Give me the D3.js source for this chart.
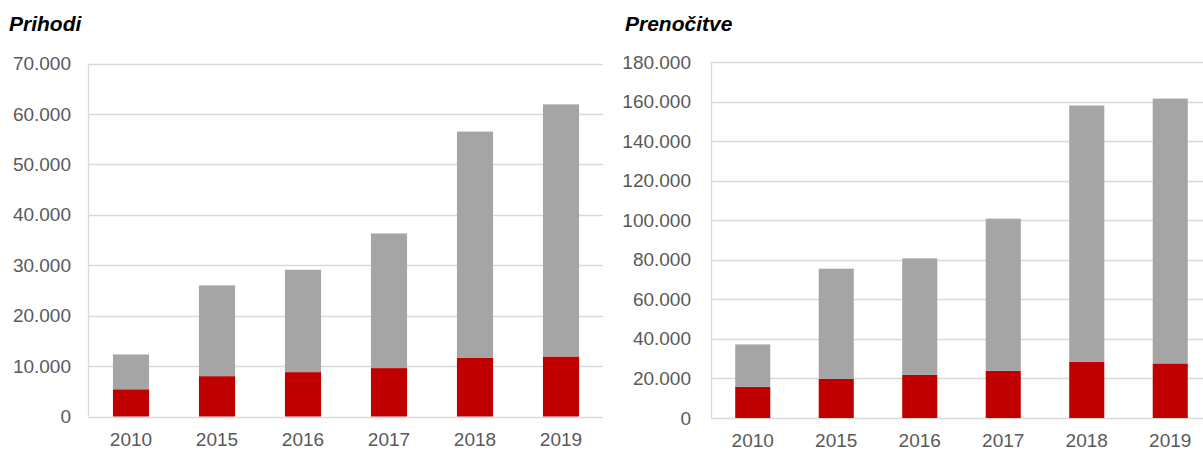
<!DOCTYPE html>
<html>
<head>
<meta charset="utf-8">
<script src="https://cdn.jsdelivr.net/npm/d3@7"></script>
<style>
  body { margin: 0; background: #fff; }
  svg { display: block; }
</style>
</head>
<body>
<div id="charts"></div>
<script>
// data
const years = ["2010", "2015", "2016", "2017", "2018", "2019"];

const prihodi_red = [5400, 8000, 8800, 9600, 11600, 11900];
const prihodi_grey = [6900, 18000, 20300, 26700, 44900, 50000];
const prihodi_ticks = [0, 10000, 20000, 30000, 40000, 50000, 60000, 70000];

const prenocitve_red = [15800, 19800, 21800, 23800, 28500, 27600];
const prenocitve_grey = [21400, 55700, 58900, 77000, 129500, 133900];
const prenocitve_ticks = [0, 20000, 40000, 60000, 80000, 100000, 120000, 140000, 160000, 180000];

const colors = { red: "#c00000", grey: "#a5a5a5" };
const font = "'Liberation Sans', Arial, sans-serif";

// 70000 -> "70.000"
const fmt = (v) => d3.format(",")(v).replace(/,/g, ".");

const svg = d3
  .select("#charts")
  .append("svg")
  .attr("width", 1203)
  .attr("height", 452);

const draw_chart = (opts) => {
  const { title, titleX, red, grey, ticks, left, right, gridRight, top, bottom, labelGap } = opts;

  const rows = years.map((year, i) => ({ year, red: red[i], grey: grey[i] }));
  const stacked = d3.stack().keys(["red", "grey"])(rows);

  const x = d3
    .scaleBand()
    .domain(years)
    .range([left, right])
    .paddingInner(0.58)
    .paddingOuter(0.29);

  const y = d3
    .scaleLinear()
    .domain([0, d3.max(ticks)])
    .range([bottom, top]);

  const g = svg.append("g");

  // title
  g.append("text")
    .attr("x", titleX)
    .attr("y", 31)
    .attr("font-family", font)
    .attr("font-size", 21)
    .attr("font-weight", "bold")
    .attr("font-style", "italic")
    .attr("fill", "#000")
    .text(title);

  // gridlines
  g.selectAll(".grid")
    .data(ticks)
    .join("line")
    .attr("class", "grid")
    .attr("x1", left)
    .attr("x2", gridRight)
    .attr("y1", (d) => Math.round(y(d)) + 0.5)
    .attr("y2", (d) => Math.round(y(d)) + 0.5)
    .attr("stroke", "#d9d9d9")
    .attr("stroke-width", 1.3);

  // left border of plot area
  g.append("line")
    .attr("x1", left + 0.5)
    .attr("x2", left + 0.5)
    .attr("y1", y(d3.max(ticks)))
    .attr("y2", y(0))
    .attr("stroke", "#d9d9d9")
    .attr("stroke-width", 1.3);

  // bars
  g.selectAll(".layer")
    .data(stacked)
    .join("g")
    .attr("class", "layer")
    .attr("fill", (s) => colors[s.key])
    .selectAll("rect")
    .data((s) => s)
    .join("rect")
    .attr("x", (d) => x(d.data.year))
    .attr("width", x.bandwidth())
    .attr("y", (d) => y(d[1]))
    .attr("height", (d) => y(d[0]) - y(d[1]));

  // y axis
  const yAxis = g
    .append("g")
    .attr("transform", `translate(${left - labelGap}, 0)`)
    .call(d3.axisLeft(y).tickValues(ticks).tickFormat(fmt).tickSize(0).tickPadding(0));
  yAxis.select(".domain").remove();
  yAxis
    .selectAll("text")
    .attr("font-family", font)
    .attr("font-size", 19)
    .attr("fill", "#595959");

  // x axis (kept just inside the bottom edge)
  const xAxis = g
    .append("g")
    .attr("transform", `translate(0, ${bottom})`)
    .call(d3.axisBottom(x).tickSize(0).tickPadding(16));
  xAxis.select(".domain").remove();
  xAxis
    .selectAll("text")
    .attr("font-family", font)
    .attr("font-size", 19)
    .attr("fill", "#595959");
};

draw_chart({
  title: "Prihodi",
  titleX: 9,
  red: prihodi_red,
  grey: prihodi_grey,
  ticks: prihodi_ticks,
  left: 88,
  right: 604,
  gridRight: 603,
  top: 63.5,
  bottom: 416.5,
  labelGap: 17,
});

draw_chart({
  title: "Prenočitve",
  titleX: 625,
  red: prenocitve_red,
  grey: prenocitve_grey,
  ticks: prenocitve_ticks,
  left: 711,
  right: 1212,
  gridRight: 1203,
  top: 62,
  bottom: 418,
  labelGap: 20,
});
</script>
</body>
</html>
